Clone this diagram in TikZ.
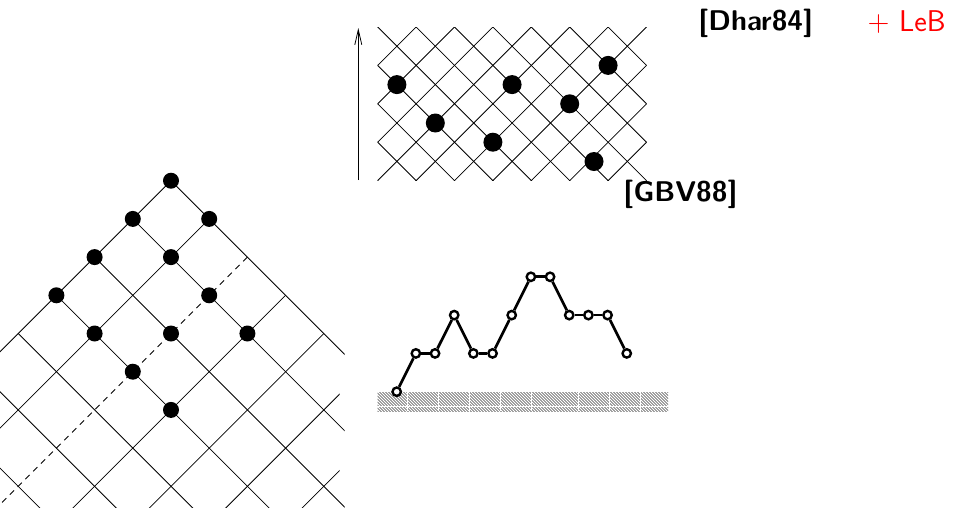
\documentclass[tikz,border=0pt]{standalone}
\usepackage{fontspec}
\usetikzlibrary{arrows.meta}
\begin{document}
\begin{tikzpicture}[x=1pt,y=-1pt,
  bigdot/.style={circle,fill=black,inner sep=0pt,minimum size=19pt},
  ldot/.style={circle,fill=black,inner sep=0pt,minimum size=16pt},
  mnode/.style={circle,draw=black,fill=white,line width=2.4pt,inner sep=0pt,minimum size=8.4pt},
  mline/.style={line width=2.7pt},
  lat/.style={line width=0.8pt},
  hatchline/.style={line width=0.7pt,black!75},
  seam/.style={white,line width=0.8pt},
  reftext/.style={font=\fontsize{28.5}{30}\selectfont\sffamily\bfseries,inner sep=0pt}]
\useasboundingbox (0,0) rectangle (965,507);

% ---------- top-right lattice ----------
\begin{scope}
  \clip (377.7,27) rectangle (646.7,180);
  \foreach \k in {-4,...,11} {
    \draw[lat] (377.7+38.4*\k,27) -- ++(200,200);
    \draw[lat] (377.7+38.4*\k,27) -- ++(-200,200);
  }
\end{scope}
\foreach \i/\j [count=\c] in {1/3,3/5,7/3,6/6,10/4,12/2}
  \node[bigdot] (t\c) at (377.7+19.2*\i,27+19.2*\j) {};
\node[bigdot] (t7) at (594,161.5) {};

% arrow
\coordinate (arrS) at (358.3,180);
\coordinate (arrE) at (358.3,28);
\draw[line width=0.8pt,-{Straight Barb[length=15pt,width=7pt]}] (arrS) -- (arrE);

% ---------- left lattice ----------
\def\s{38.2}
\begin{scope}
  \clip (0,0) rectangle (344.5,507);
  \foreach \n in {0,...,8}
    \draw[lat] (171-\s*\n,180.7+\s*\n) -- ++(400,400);
\end{scope}
\begin{scope}
  \clip (0,0) rectangle (339.5,507);
  \foreach \m in {0,1,3,4,5,6,7}
    \draw[lat] (171+\s*\m,180.7+\s*\m) -- ++(-500,500);
  \draw[lat,dash pattern=on 6pt off 5pt] (171+\s*2,180.7+\s*2) -- ++(-500,500);
\end{scope}
\foreach \m/\n [count=\c] in {0/0,0/1,1/0,0/2,1/1,0/3,2/1,1/3,2/2,3/1,2/3,3/3}
  \node[ldot] (l\c) at (171+\s*\m-\s*\n,180.7+\s*\m+\s*\n) {};

% ---------- hatched ground ----------
\begin{scope}
  \clip (377.5,392) rectangle (668,411.3);
  \foreach \i in {0,...,106}
    \draw[hatchline] (357.5+3*\i,391) -- ++(22,22);
\end{scope}
\foreach \x in {407.3,438.3,469.3,500.7,531.7,578.3,609.3,640}
  \draw[seam] (\x,392) -- (\x,411.3);
\draw[seam,line width=1.1pt] (377.5,406.3) -- (668,406.3);

% ---------- Motzkin path ----------
\foreach \h [count=\i from 0] in {0,1,1,2,1,1,2,3,3,2,2,2,1}
  \node[mnode] (p\i) at (396.7+19.17*\i,391.7-38.3*\h) {};
\foreach \i [evaluate=\i as \j using int(\i+1)] in {0,...,11}
  \draw[mline] (p\i) -- (p\j);

% ---------- texts ----------
\node[reftext] (dhar) at (755.8,23.7) {[Dhar84]};
\node[reftext] (gbv) at (680.5,194.7) {[GBV88]};
\node[font=\fontsize{30}{32}\selectfont\sffamily,text=red,inner sep=0pt,anchor=base west] (leb) at (867.5,31.7) {+ LeB};
\end{tikzpicture}
\end{document}
